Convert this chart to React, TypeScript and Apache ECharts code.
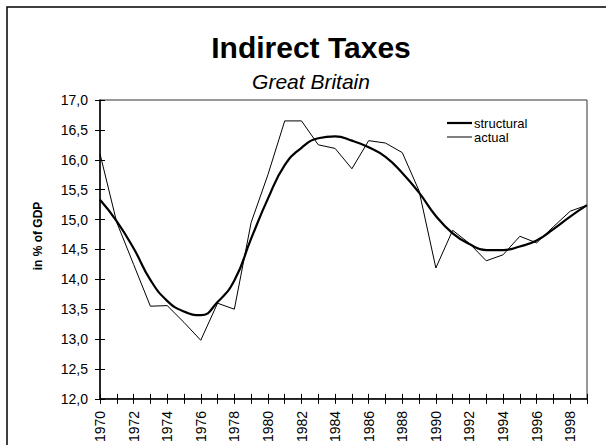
import React, { useEffect, useRef } from "react";
import * as echarts from "echarts";

// Indirect taxes in Great Britain, in % of GDP
const years: string[] = [
  "1970", "1971", "1972", "1973", "1974", "1975", "1976", "1977", "1978", "1979",
  "1980", "1981", "1982", "1983", "1984", "1985", "1986", "1987", "1988", "1989",
  "1990", "1991", "1992", "1993", "1994", "1995", "1996", "1997", "1998", "1999",
];

const structural: number[] = [
  15.33, 14.97, 14.52, 13.99, 13.64, 13.46, 13.4, 13.62, 13.98, 14.68,
  15.35, 15.91, 16.2, 16.36, 16.39, 16.32, 16.21, 16.05, 15.78, 15.45,
  15.06, 14.77, 14.59, 14.49, 14.49, 14.55, 14.65, 14.84, 15.05, 15.24,
];

const actual: number[] = [
  16.1, 14.95, 14.25, 13.55, 13.56, 13.28, 12.98, 13.6, 13.5, 14.95,
  15.75, 16.65, 16.65, 16.25, 16.19, 15.85, 16.32, 16.28, 16.12, 15.48,
  14.19, 14.82, 14.6, 14.31, 14.41, 14.72, 14.61, 14.88, 15.14, 15.24,
];

const seriesNames: string[] = ["structural", "actual"];

const yMin = 12;
const yMax = 17;
const yStep = 0.5;

const FONT = "Liberation Sans, Arial, sans-serif";

export default function App() {
  const ref = useRef<HTMLDivElement>(null);

  useEffect(() => {
    if (!ref.current) return;
    const chart = echarts.init(ref.current, undefined, { renderer: "svg" });

    const fmt = (v: number) => v.toFixed(1).replace(".", ",");

    // key: a short line sample next to each series name
    const keyWidths = [2.2, 1];
    const keyItems: any[] = [];
    seriesNames.forEach((name, i) => {
      const y = 123 + i * 14;
      keyItems.push({
        type: "line",
        shape: { x1: 447, y1: y, x2: 472, y2: y },
        style: { stroke: "#000", lineWidth: keyWidths[i] },
        silent: true,
      });
      keyItems.push({
        type: "text",
        x: 474,
        y,
        style: {
          text: name,
          fontFamily: FONT,
          fontSize: 13,
          fill: "#000",
          align: "left",
          verticalAlign: "middle",
        },
        silent: true,
      });
    });

    chart.setOption({
      animation: false,
      backgroundColor: "#fff",
      textStyle: { fontFamily: FONT, color: "#000" },
      title: {
        text: "Indirect Taxes",
        subtext: "Great Britain",
        left: 306,
        textAlign: "center",
        top: 27,
        itemGap: 9,
        textStyle: { fontFamily: FONT, fontSize: 30, fontWeight: "bold", color: "#000" },
        subtextStyle: { fontFamily: FONT, fontSize: 21, fontStyle: "italic", color: "#000" },
      },
      grid: {
        left: 100,
        right: 19,
        top: 100,
        bottom: 44,
        show: true,
        borderColor: "#333",
        borderWidth: 1,
      },
      xAxis: [
        {
          type: "category",
          data: years,
          boundaryGap: false,
          axisLine: { lineStyle: { color: "#000", width: 1.5 } },
          axisTick: { show: true, interval: 0, length: 5, lineStyle: { color: "#000" } },
          axisLabel: {
            interval: 1,
            rotate: 90,
            margin: 12,
            fontFamily: FONT,
            fontSize: 14,
            color: "#000",
          },
          splitLine: { show: false },
        },
        {
          type: "category",
          data: years,
          boundaryGap: false,
          position: "bottom",
          axisLine: { show: false },
          axisTick: { show: true, inside: true, interval: 0, length: 5, lineStyle: { color: "#000" } },
          axisLabel: { show: false },
          splitLine: { show: false },
        },
      ],
      yAxis: [
        {
          type: "value",
          min: yMin,
          max: yMax,
          interval: yStep,
          axisLine: { show: true, lineStyle: { color: "#000", width: 1.5 } },
          axisTick: { show: true, length: 5, lineStyle: { color: "#000" } },
          axisLabel: {
            formatter: fmt,
            margin: 12,
            fontFamily: FONT,
            fontSize: 14,
            color: "#000",
          },
          splitLine: { show: false },
        },
        {
          type: "value",
          min: yMin,
          max: yMax,
          interval: yStep,
          position: "left",
          axisLine: { show: false },
          axisTick: { show: true, inside: true, length: 5, lineStyle: { color: "#000" } },
          axisLabel: { show: false },
          splitLine: { show: false },
        },
      ],
      graphic: [
        {
          type: "rect",
          shape: { x: 7, y: 7, width: 610, height: 460 },
          style: { fill: "none", stroke: "#000", lineWidth: 1.5 },
          silent: true,
        },
        {
          type: "text",
          x: 38,
          y: 236,
          rotation: Math.PI / 2,
          style: {
            text: "in % of GDP",
            fontFamily: FONT,
            fontSize: 12,
            fontWeight: "bold",
            fill: "#000",
            align: "center",
            verticalAlign: "middle",
          },
        },
        ...keyItems,
      ],
      series: [
        {
          name: seriesNames[0],
          type: "line",
          data: structural,
          smooth: 0.5,
          symbol: "none",
          lineStyle: { color: "#000", width: 2.2 },
          z: 3,
        },
        {
          name: seriesNames[1],
          type: "line",
          data: actual,
          symbol: "none",
          lineStyle: { color: "#000", width: 1 },
          z: 2,
        },
      ],
    });

    return () => chart.dispose();
  }, []);

  return (
    <div
      ref={ref}
      style={{ position: "fixed", left: 0, top: 0, width: 606, height: 445 }}
    />
  );
}
